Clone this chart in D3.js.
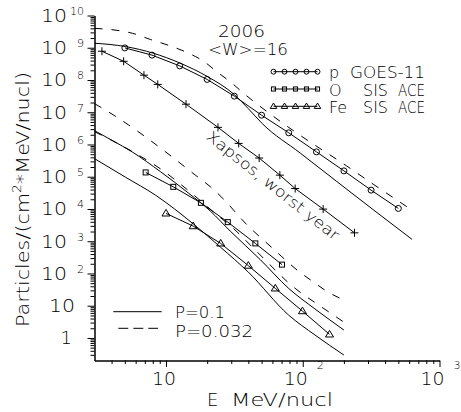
<!DOCTYPE html>
<html>
<head>
<meta charset="utf-8">
<script src="https://cdn.jsdelivr.net/npm/d3@7"></script>
<style>
  html, body { margin: 0; padding: 0; background: #fff; }
  svg { display: block; }
  text { font-family: "DejaVu Sans", sans-serif; font-weight: 200; fill: #000; }
</style>
</head>
<body>
<svg id="chart" width="461" height="412"></svg>
<script>
// ---- measured spectra (energy in MeV/nucl, particles/(cm^2*MeV/nucl)) ----
const goesE = [5.0, 7.9, 12.6, 20, 31.6, 50, 79, 126, 200, 316, 500];
const goesF = [9.9e8, 5.9e8, 2.74e8, 1.04e8, 3.15e7, 8.1e6, 2.3e6, 5.9e5, 1.52e5, 3.84e4, 1.04e4];

const xapsosE = [3.4, 4.9, 6.9, 8.7, 14, 24, 34, 48, 68, 88, 141, 239];
const xapsosF = [7.8e8, 3.8e8, 1.41e8, 7.3e7, 1.78e7, 3.4e6, 1.08e6, 3.8e5, 1.12e5, 4.3e4, 9.9e3, 1.82e3];

const oxygenE = [7.1, 11.3, 18, 28.3, 45, 70.5];
const oxygenF = [1.36e5, 4.86e4, 1.55e4, 3.91e3, 856, 188];

const ironE = [10, 15.8, 25.1, 40, 63, 99.5, 157];
const ironF = [7.29e3, 2.94e3, 856, 175, 34.5, 6.8, 1.29];

// ---- model spectra for probabilities P=0.1 (solid) and P=0.032 (dashed) ----
const protonP1E = [3, 5.05, 8.05, 12.6, 20, 31.6, 40, 50.6, 96, 327, 630];
const protonP1F = [1.38e9, 1.09e9, 6.8e8, 3.37e8, 1.29e8, 3.51e7, 1.29e7, 4.43e6, 5.39e5, 9.55e3, 1.14e3];
const protonP032E = [3, 5.7, 7.7, 11, 14.6, 18.5, 24, 30, 38, 48, 76, 90, 208, 327, 630];
const protonP032F = [4.0e9, 2.8e9, 1.8e9, 1.1e9, 6.8e8, 4.0e8, 1.7e8, 8.3e7, 3.5e7, 1.6e7, 3.8e6, 2.3e6, 2.2e5, 5.9e4, 9.2e3];

const oxygenP1E = [3, 4.13, 5.65, 9.1, 14.7, 21.1, 29.5, 48.9, 78.4, 123, 200];
const oxygenP1F = [2.69e6, 1.27e6, 5.9e5, 1.44e5, 3.04e4, 8.6e3, 2.06e3, 269, 35.2, 7.9, 1.76];
const oxygenP032E = [3, 4.15, 5.34, 7.07, 11.1, 16.4, 21.1, 26.4, 38, 60, 94, 120, 151, 200];
const oxygenP032F = [1.85e7, 8.1e6, 4.0e6, 1.73e6, 4.1e5, 1.12e5, 4.9e4, 2.0e4, 3.65e3, 612, 114, 54, 27.4, 15.0];

const ironP1E = [3, 5.05, 8.37, 15.9, 25, 40, 78.8, 123, 200];
const ironP1F = [3.64e5, 9.7e4, 2.69e4, 3.39e3, 657, 110, 5.13, 1.23, 0.295];
const ironP032E = [3, 5.65, 9.4, 14.3, 23, 31.2, 45, 63, 78.4, 98.7, 123, 200];
const ironP032F = [2.5e6, 6.1e5, 1.6e5, 3.98e4, 7.2e3, 2.46e3, 530, 127, 52, 23.8, 12.5, 3.1];

// ---- axis ticks ----
const xMajorTicks = [10, 100, 1000];
const xMajorExp = [1, 2, 3];
const xMinorTicks = [4, 5, 6, 7, 8, 9, 20, 30, 40, 50, 60, 70, 80, 90, 200, 300, 400, 500, 600, 700, 800, 900];
const yMajorExp = [0, 1, 2, 3, 4, 5, 6, 7, 8, 9, 10];

// ---- legend entries ----
const legendNames = [["p", "GOES-11"], ["O", "SIS", "ACE"], ["Fe", "SIS", "ACE"]];
const legendMarks = ["circle", "square", "triangle"];
const probLabels = ["P=0.1", "P=0.032"];

const zip = (a, b) => a.map((v, i) => [v, b[i]]);

const svg = d3.select("#chart");
const x = d3.scaleLog().domain([3, 1000]).range([94.5, 439.5]);
const y = d3.scaleLog().domain([0.2, 1e10]).range([360.5, 15.5]);

// ---- axes ----
function stripText(g) {
  g.selectAll("text").remove();
  g.select(".domain").attr("stroke", "#000");
  g.selectAll(".tick line").attr("stroke", "#000");
}

svg.append("g").attr("transform", "translate(0,360.5)")
  .call(d3.axisBottom(x).tickValues(xMinorTicks).tickSize(3.5).tickSizeOuter(0).tickFormat(""))
  .call(stripText);
svg.append("g").attr("transform", "translate(0,360.5)")
  .call(d3.axisBottom(x).tickValues(xMajorTicks).tickSize(6.5).tickSizeOuter(0).tickFormat(""))
  .call(stripText);

const yMinorTicks = [];
for (let k = -1; k <= 9; k++) for (let m = 2; m <= 9; m++) {
  const v = m * Math.pow(10, k);
  if (v > 0.2 && v < 1e10) yMinorTicks.push(v);
}
svg.append("g").attr("transform", "translate(94.5,0)")
  .call(d3.axisLeft(y).tickValues(yMinorTicks).tickSize(4).tickSizeOuter(0).tickFormat(""))
  .call(stripText);
svg.append("g").attr("transform", "translate(94.5,0)")
  .call(d3.axisLeft(y).tickValues(yMajorExp.map(e => Math.pow(10, e))).tickSize(7).tickSizeOuter(0).tickFormat(""))
  .call(stripText);

// ---- tick labels ----
const yLab = svg.append("g");
yMajorExp.forEach(e => {
  const ty = y(Math.pow(10, e));
  if (e === 0) {
    yLab.append("text").attr("x", 72).attr("y", ty + 6.5).attr("text-anchor", "end")
      .attr("font-size", 18).text("1");
  } else if (e === 1) {
    yLab.append("text").attr("x", 75).attr("y", ty + 6.5).attr("text-anchor", "end")
      .attr("font-size", 18).attr("textLength", 26).attr("lengthAdjust", "spacingAndGlyphs").text("10");
  } else {
    yLab.append("text").attr("x", 67).attr("y", ty + 6.5).attr("text-anchor", "end")
      .attr("font-size", 18).attr("textLength", 26).attr("lengthAdjust", "spacingAndGlyphs").text("10");
    yLab.append("text").attr("x", 84).attr("y", ty - 0.5).attr("text-anchor", "end")
      .attr("font-size", 11).text(String(e));
  }
});

const xLab = svg.append("g");
xMajorTicks.forEach((v, i) => {
  const tx = x(v);
  if (xMajorExp[i] === 1) {
    xLab.append("text").attr("x", tx - 2).attr("y", 385).attr("text-anchor", "middle")
      .attr("font-size", 17).attr("textLength", 24).attr("lengthAdjust", "spacingAndGlyphs").text("10");
  } else {
    xLab.append("text").attr("x", tx + 5).attr("y", 385).attr("text-anchor", "end")
      .attr("font-size", 17).attr("textLength", 24).attr("lengthAdjust", "spacingAndGlyphs").text("10");
    xLab.append("text").attr("x", tx + 14).attr("y", 369).attr("text-anchor", "start")
      .attr("font-size", 11).text(String(xMajorExp[i]));
  }
});

// ---- axis titles ----
const yTitle = svg.append("text")
  .attr("transform", "translate(28.5,199.5) rotate(-90)")
  .attr("text-anchor", "middle").attr("font-size", 18)
  .attr("textLength", 255).attr("lengthAdjust", "spacingAndGlyphs");
yTitle.append("tspan").text("Particles/(cm");
yTitle.append("tspan").attr("font-size", 12).attr("dy", -8).text("2");
yTitle.append("tspan").attr("dy", 8).text("*MeV/nucl)");

svg.append("text").attr("x", 207).attr("y", 406).attr("font-size", 18).text("E");
svg.append("text").attr("x", 231).attr("y", 406).attr("font-size", 18)
  .attr("textLength", 102).attr("lengthAdjust", "spacingAndGlyphs").text("MeV/nucl");

// ---- curves ----
const line = d3.line().x(d => x(d[0])).y(d => y(d[1])).curve(d3.curveMonotoneX);
const poly = d3.line().x(d => x(d[0])).y(d => y(d[1]));
const curves = svg.append("g").attr("fill", "none").attr("stroke", "#000").attr("stroke-width", 1);

[[protonP1E, protonP1F], [oxygenP1E, oxygenP1F], [ironP1E, ironP1F]].forEach(([e, f]) => {
  curves.append("path").attr("d", line(zip(e, f)));
});
[[protonP032E, protonP032F], [oxygenP032E, oxygenP032F], [ironP032E, ironP032F]].forEach(([e, f]) => {
  curves.append("path").attr("d", line(zip(e, f))).attr("stroke-dasharray", "8,9");
});

// measured spectra connected by straight segments
[[goesE, goesF], [xapsosE, xapsosF], [oxygenE, oxygenF], [ironE, ironF]].forEach(([e, f]) => {
  curves.append("path").attr("d", poly(zip(e, f)));
});

// ---- markers ----
function marker(g, kind, cx, cy, s) {
  if (kind === "circle") {
    g.append("circle").attr("cx", cx).attr("cy", cy).attr("r", 3 * s);
  } else if (kind === "square") {
    g.append("rect").attr("x", cx - 2.5 * s).attr("y", cy - 2.5 * s).attr("width", 5 * s).attr("height", 5 * s);
  } else if (kind === "triangle") {
    g.append("path").attr("d", `M${cx - 4 * s},${cy + 2.6 * s}L${cx + 4 * s},${cy + 2.6 * s}L${cx},${cy - 4 * s}Z`);
  } else if (kind === "plus") {
    g.append("path").attr("d", `M${cx - 4 * s},${cy}H${cx + 4 * s}M${cx},${cy - 4 * s}V${cy + 4 * s}`);
  }
}
const marks = svg.append("g").attr("fill", "none").attr("stroke", "#000").attr("stroke-width", 1);
zip(goesE, goesF).forEach(d => marker(marks, "circle", x(d[0]), y(d[1]), 1));
zip(xapsosE, xapsosF).forEach(d => marker(marks, "plus", x(d[0]), y(d[1]), 1));
zip(oxygenE, oxygenF).forEach(d => marker(marks, "square", x(d[0]), y(d[1]), 1));
zip(ironE, ironF).forEach(d => marker(marks, "triangle", x(d[0]), y(d[1]), 1));

// ---- annotations ----
svg.append("text").attr("x", 241.5).attr("y", 37).attr("text-anchor", "middle").attr("font-size", 16)
  .attr("textLength", 47).attr("lengthAdjust", "spacingAndGlyphs").text("2006");
svg.append("text").attr("x", 248).attr("y", 55).attr("text-anchor", "middle").attr("font-size", 16)
  .attr("textLength", 80).attr("lengthAdjust", "spacingAndGlyphs").text("<W>=16");
svg.append("text").attr("transform", "translate(273,185.5) rotate(38.5)")
  .attr("text-anchor", "middle").attr("dy", "0.35em").attr("font-size", 15)
  .attr("textLength", 165).attr("lengthAdjust", "spacingAndGlyphs").text("Xapsos, worst year");

// ---- legend: data sets ----
const legRowY = [71.7, 89, 106.3];
const legX = [273.5, 284.5, 295.5, 306.5, 317.5];
const legTextX = [[329, 350], [329, 363, 398], [329, 363, 398]];
const legTextW = [[null, 75], [null, 25, 27], [null, 25, 27]];
const leg = svg.append("g");
legendNames.forEach((parts, i) => {
  const ry = legRowY[i];
  leg.append("line").attr("x1", legX[0]).attr("x2", legX[legX.length - 1]).attr("y1", ry).attr("y2", ry)
    .attr("stroke", "#000");
  const lm = leg.append("g").attr("fill", "none").attr("stroke", "#000");
  legX.forEach(lx => marker(lm, legendMarks[i], lx, ry, 0.82));
  parts.forEach((p, j) => {
    const t = leg.append("text").attr("x", legTextX[i][j]).attr("y", ry + 6.5).attr("font-size", 16).text(p);
    if (legTextW[i][j]) t.attr("textLength", legTextW[i][j]).attr("lengthAdjust", "spacingAndGlyphs");
  });
});

// ---- legend: probability levels ----
const pl = svg.append("g");
pl.append("line").attr("x1", 113.3).attr("x2", 161.7).attr("y1", 311.7).attr("y2", 311.7).attr("stroke", "#000");
pl.append("line").attr("x1", 118.3).attr("x2", 158).attr("y1", 328.3).attr("y2", 328.3).attr("stroke", "#000")
  .attr("stroke-dasharray", "10,5");
pl.append("text").attr("x", 175).attr("y", 318.3).attr("font-size", 16)
  .attr("textLength", 50).attr("lengthAdjust", "spacingAndGlyphs").text(probLabels[0]);
pl.append("text").attr("x", 175).attr("y", 337.3).attr("font-size", 16)
  .attr("textLength", 78).attr("lengthAdjust", "spacingAndGlyphs").text(probLabels[1]);
</script>
</body>
</html>
